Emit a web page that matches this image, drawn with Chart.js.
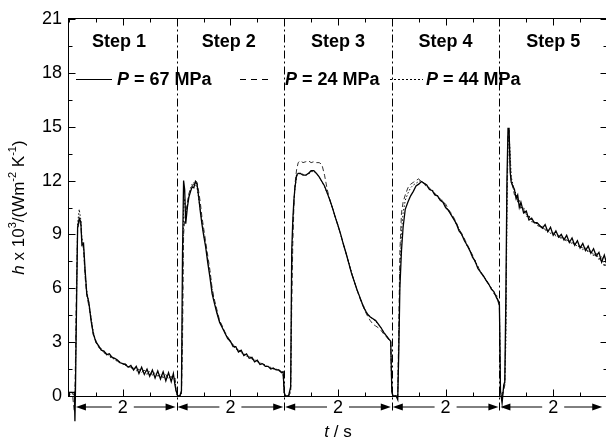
<!DOCTYPE html>
<html>
<head>
<meta charset="utf-8">
<script src="https://cdn.jsdelivr.net/npm/chart.js@4.4.1/dist/chart.umd.min.js"></script>
<style>
html, body { margin: 0; padding: 0; overflow: hidden; background: #fff; }
canvas { display: block; }
</style>
</head>
<body>
<canvas id="chart_heatTransferSteps" width="607" height="439"></canvas>
<script>
// time (s) and h x 10^3 (W m-2 K-1), read step by step
var step1Time = [0, 0.06, 0.10, 0.11, 0.12, 0.14, 0.16, 0.19, 0.22, 0.24, 0.27, 0.30, 0.33, 0.37, 0.41, 0.45, 0.50, 0.55, 0.60, 0.65, 0.70, 0.75, 0.80, 0.85, 0.90, 0.95, 1.00, 1.05, 1.10, 1.15, 1.20, 1.25, 1.30, 1.35, 1.40, 1.45, 1.50, 1.55, 1.60, 1.65, 1.70, 1.75, 1.80, 1.85, 1.90, 1.94, 1.97, 1.99];
var step1P67 = [0.2, 0.2, 0.2, -1.4, 0.3, 5.0, 9.4, 9.9, 9.7, 8.4, 8.5, 7.0, 5.7, 5.2, 4.2, 3.5, 3.0, 2.8, 2.55, 2.5, 2.3, 2.35, 2.15, 2.1, 2.0, 1.85, 1.8, 1.75, 1.6, 1.7, 1.45, 1.65, 1.25, 1.6, 1.2, 1.5, 1.1, 1.45, 1.0, 1.4, 0.95, 1.35, 0.85, 1.3, 0.8, 1.25, 0.6, 0.3];
var step1P24 = [0.2, 0.2, -0.9, 0.2, 2.0, 6.5, 9.2, 9.8, 9.5, 8.6, 8.2, 6.6, 5.6, 5.0, 4.3, 3.4, 3.1, 2.7, 2.6, 2.4, 2.35, 2.2, 2.2, 2.0, 1.95, 1.9, 1.75, 1.8, 1.65, 1.6, 1.55, 1.4, 1.5, 1.3, 1.45, 1.2, 1.4, 1.15, 1.3, 1.1, 1.25, 1.0, 1.2, 0.95, 1.1, 0.9, 1.0, 0.2];
var step1P44 = [0.1, 0.1, 0.1, 0.1, 1.0, 5.5, 9.6, 10.4, 9.8, 8.8, 8.3, 6.8, 5.9, 5.1, 4.4, 3.6, 3.0, 2.75, 2.65, 2.4, 2.4, 2.2, 2.1, 2.05, 1.9, 1.85, 1.8, 1.7, 1.65, 1.55, 1.6, 1.45, 1.5, 1.35, 1.45, 1.3, 1.35, 1.2, 1.3, 1.1, 1.2, 1.05, 1.15, 1.0, 1.1, 0.95, 1.0, 0.3];

var step2Time = [2.02, 2.06, 2.09, 2.11, 2.13, 2.15, 2.17, 2.20, 2.23, 2.26, 2.29, 2.32, 2.35, 2.38, 2.41, 2.44, 2.47, 2.50, 2.54, 2.58, 2.62, 2.66, 2.70, 2.75, 2.80, 2.85, 2.90, 2.95, 3.00, 3.05, 3.10, 3.15, 3.20, 3.25, 3.30, 3.35, 3.40, 3.45, 3.50, 3.55, 3.60, 3.65, 3.70, 3.75, 3.80, 3.85, 3.90, 3.95, 3.98, 4.00];
var step2P67 = [0.0, 0.0, 0.3, 8.0, 12.0, 11.5, 9.6, 10.5, 11.1, 11.4, 11.65, 11.6, 11.95, 11.8, 11.1, 10.3, 9.6, 9.0, 8.3, 7.4, 6.6, 5.7, 5.2, 4.6, 4.1, 3.8, 3.5, 3.2, 3.05, 2.75, 2.75, 2.45, 2.55, 2.25, 2.35, 2.1, 2.15, 1.9, 2.0, 1.75, 1.8, 1.65, 1.65, 1.5, 1.55, 1.45, 1.45, 1.3, 1.35, 0.2];
var step2P24 = [0.0, 0.0, 0.0, 3.0, 9.0, 9.8, 10.2, 10.8, 11.3, 11.5, 11.7, 11.8, 12.0, 11.9, 11.4, 10.8, 10.0, 9.4, 8.6, 7.8, 7.0, 6.0, 5.4, 4.8, 4.2, 3.9, 3.55, 3.3, 3.05, 2.85, 2.7, 2.55, 2.45, 2.3, 2.3, 2.15, 2.1, 1.95, 1.95, 1.8, 1.8, 1.65, 1.65, 1.55, 1.55, 1.45, 1.45, 1.35, 1.3, 0.2];
var step2P44 = [0.0, 0.0, 0.1, 5.0, 10.5, 11.0, 10.0, 10.6, 11.2, 11.6, 11.8, 11.9, 11.8, 11.6, 11.0, 10.4, 9.8, 9.1, 8.4, 7.6, 6.8, 5.9, 5.3, 4.7, 4.15, 3.85, 3.5, 3.25, 3.0, 2.85, 2.6, 2.6, 2.4, 2.4, 2.2, 2.25, 2.05, 2.05, 1.9, 1.9, 1.75, 1.75, 1.6, 1.6, 1.5, 1.5, 1.4, 1.4, 1.3, 0.2];

var step3Time = [4.02, 4.08, 4.12, 4.14, 4.16, 4.18, 4.20, 4.23, 4.26, 4.30, 4.35, 4.40, 4.45, 4.50, 4.55, 4.60, 4.65, 4.70, 4.75, 4.80, 4.85, 4.90, 4.95, 5.00, 5.05, 5.10, 5.15, 5.20, 5.25, 5.30, 5.35, 5.40, 5.45, 5.50, 5.55, 5.60, 5.65, 5.70, 5.75, 5.80, 5.85, 5.90, 5.95, 5.98, 6.00];
var step3P67 = [0.0, 0.0, 0.5, 8.1, 9.8, 10.9, 11.6, 12.3, 12.4, 12.4, 12.3, 12.3, 12.4, 12.55, 12.55, 12.4, 12.2, 11.95, 11.7, 11.3, 10.9, 10.45, 9.95, 9.5, 9.0, 8.45, 7.95, 7.4, 6.85, 6.4, 5.95, 5.55, 5.15, 4.8, 4.55, 4.4, 4.3, 4.2, 4.0, 3.8, 3.55, 3.35, 3.15, 3.05, 0.3];
var step3P24 = [0.0, 0.0, 0.2, 5.0, 8.5, 10.5, 11.8, 12.6, 13.0, 13.1, 13.0, 13.05, 13.1, 13.0, 13.05, 13.0, 13.0, 12.9, 12.3, 11.5, 10.9, 10.45, 9.95, 9.5, 9.0, 8.45, 7.95, 7.4, 6.85, 6.4, 5.95, 5.5, 5.1, 4.75, 4.45, 4.2, 4.0, 3.9, 3.8, 3.65, 3.45, 3.3, 3.1, 3.0, 0.2];
var step3P44 = [0.0, 0.0, 0.3, 7.0, 9.5, 10.8, 11.6, 12.2, 12.35, 12.4, 12.35, 12.3, 12.35, 12.5, 12.5, 12.4, 12.2, 11.95, 11.65, 11.3, 10.9, 10.45, 10.0, 9.5, 9.0, 8.5, 7.95, 7.45, 6.9, 6.4, 5.95, 5.55, 5.15, 4.85, 4.55, 4.4, 4.3, 4.15, 4.0, 3.8, 3.55, 3.35, 3.15, 3.05, 0.3];

var step4Time = [6.02, 6.08, 6.11, 6.13, 6.15, 6.18, 6.21, 6.25, 6.30, 6.35, 6.40, 6.45, 6.50, 6.55, 6.60, 6.65, 6.70, 6.75, 6.80, 6.85, 6.90, 6.95, 7.00, 7.05, 7.10, 7.15, 7.20, 7.25, 7.30, 7.35, 7.40, 7.45, 7.50, 7.55, 7.60, 7.65, 7.70, 7.75, 7.80, 7.85, 7.90, 7.95, 7.98, 8.00];
var step4P67 = [0.0, 0.0, -0.2, 2.5, 6.0, 8.1, 9.4, 10.4, 10.8, 11.15, 11.4, 11.7, 11.8, 11.95, 11.85, 11.75, 11.5, 11.45, 11.2, 11.15, 10.9, 10.8, 10.5, 10.35, 10.1, 9.85, 9.6, 9.2, 9.0, 8.65, 8.4, 8.1, 7.75, 7.5, 7.1, 6.9, 6.7, 6.45, 6.25, 5.95, 5.8, 5.45, 5.3, 5.1];
var step4P24 = [0.0, 0.0, 0.0, 4.0, 8.0, 10.2, 10.8, 11.2, 11.6, 11.8, 11.9, 12.0, 12.1, 11.9, 11.85, 11.6, 11.6, 11.35, 11.3, 11.05, 11.0, 10.75, 10.7, 10.4, 10.2, 9.95, 9.65, 9.3, 9.05, 8.75, 8.45, 8.15, 7.85, 7.45, 7.25, 6.85, 6.7, 6.45, 6.2, 6.0, 5.7, 5.55, 5.2, 5.0];
var step4P44 = [0.0, 0.0, 0.0, 3.0, 6.8, 9.2, 10.2, 10.9, 11.3, 11.6, 11.75, 11.85, 11.95, 12.0, 11.85, 11.75, 11.5, 11.5, 11.25, 11.15, 10.9, 10.9, 10.55, 10.35, 10.1, 9.9, 9.55, 9.3, 8.95, 8.75, 8.35, 8.15, 7.7, 7.55, 7.15, 6.95, 6.65, 6.5, 6.2, 6.05, 5.7, 5.6, 5.25, 5.2];

var step5Time = [8.02, 8.05, 8.08, 8.10, 8.12, 8.14, 8.16, 8.18, 8.20, 8.22, 8.25, 8.28, 8.31, 8.34, 8.37, 8.40, 8.45, 8.50, 8.55, 8.60, 8.65, 8.70, 8.75, 8.80, 8.85, 8.90, 8.95, 9.00, 9.05, 9.10, 9.15, 9.20, 9.25, 9.30, 9.35, 9.40, 9.45, 9.50, 9.55, 9.60, 9.65, 9.70, 9.75, 9.80, 9.85, 9.90, 9.95, 10.00];
var step5P67 = [0.3, -0.4, 0.6, 0.8, 5.5, 12.0, 14.9, 14.9, 12.5, 11.9, 11.7, 11.5, 11.0, 11.2, 10.5, 10.8, 10.2, 10.3, 9.8, 9.9, 9.65, 9.65, 9.5, 9.35, 9.55, 9.15, 9.4, 8.95, 9.2, 8.85, 9.0, 8.7, 8.95, 8.55, 8.8, 8.4, 8.65, 8.25, 8.5, 8.1, 8.35, 7.95, 8.2, 7.8, 8.0, 7.45, 7.85, 7.3];
var step5P24 = [0.2, 0.0, 0.3, 0.6, 4.0, 11.0, 14.6, 14.8, 13.0, 12.0, 11.6, 11.2, 11.2, 10.8, 10.8, 10.4, 10.4, 10.0, 10.0, 9.7, 9.7, 9.5, 9.45, 9.35, 9.3, 9.2, 9.15, 9.0, 9.0, 8.85, 8.85, 8.7, 8.7, 8.6, 8.55, 8.45, 8.4, 8.3, 8.25, 8.15, 8.1, 7.95, 7.9, 7.8, 7.7, 7.5, 7.35, 7.2];
var step5P44 = [0.2, 0.1, 0.4, 0.7, 3.0, 10.0, 14.0, 14.5, 13.5, 12.2, 11.8, 11.4, 11.3, 10.9, 10.9, 10.5, 10.5, 10.1, 10.05, 9.8, 9.65, 9.6, 9.4, 9.45, 9.2, 9.3, 9.05, 9.1, 8.9, 8.95, 8.75, 8.8, 8.6, 8.65, 8.45, 8.5, 8.3, 8.4, 8.15, 8.25, 8.0, 8.1, 7.8, 7.95, 7.6, 7.8, 7.2, 7.6];

var stepLabels = ['Step 1', 'Step 2', 'Step 3', 'Step 4', 'Step 5'];
var stepLabelCenters = [0.93, 2.97, 5, 7, 9];
var stepStarts = [0.11, 2, 4, 6, 8];
var stepEnds = [2, 4, 6, 8, 9.93];
var stepCenters = [1, 3, 5, 7, 9];
var stepDurations = ['2', '2', '2', '2', '2'];
var pressureLabels = ['67', '24', '44'];

var time = [].concat(step1Time, step2Time, step3Time, step4Time, step5Time);
var h67 = [].concat(step1P67, step2P67, step3P67, step4P67, step5P67);
var h24 = [].concat(step1P24, step2P24, step3P24, step4P24, step5P24);
var h44 = [].concat(step1P44, step2P44, step3P44, step4P44, step5P44);

function toPoints(values) {
    return time.map(function (t, i) { return { x: t, y: values[i] }; });
}

var FONT = '"Liberation Sans", Arial, Helvetica, sans-serif';

function drawParts(ctx, parts, x, y, center) {
    var total = 0;
    parts.forEach(function (p) { ctx.font = p[1]; total += ctx.measureText(p[0]).width; });
    var cx = center ? x - total / 2 : x;
    parts.forEach(function (p) {
        ctx.font = p[1];
        ctx.fillText(p[0], cx, y + (p[2] || 0));
        cx += ctx.measureText(p[0]).width;
    });
}

var decorations = {
    id: 'decorations',
    afterDraw: function (chart) {
        var ctx = chart.ctx, a = chart.chartArea;
        var xs = chart.scales.x, ys = chart.scales.y;
        var L = Math.round(a.left) - 0.5, R = Math.round(a.right) + 0.5;
        var T = Math.round(a.top) - 0.5, B = Math.round(a.bottom) + 0.5;
        ctx.save();
        ctx.strokeStyle = '#000';
        ctx.fillStyle = '#000';
        ctx.lineWidth = 1;

        // frame
        ctx.strokeRect(L, T, R - L, B - T);

        // inward ticks
        ctx.beginPath();
        for (var k = 0; k <= 14; k++) {
            var py = Math.round(ys.getPixelForValue(1.5 * k)) + 0.5;
            var len = k % 2 === 0 ? 7 : 4;
            ctx.moveTo(L, py); ctx.lineTo(L + len, py);
            ctx.moveTo(R, py); ctx.lineTo(R - len, py);
        }
        for (var j = 0; j <= 20; j++) {
            var px = Math.round(xs.getPixelForValue(0.5 * j)) + 0.5;
            var tl = j % 4 === 2 ? 7 : 4;
            ctx.moveTo(px, B); ctx.lineTo(px, B - tl);
            ctx.moveTo(px, T); ctx.lineTo(px, T + tl);
        }
        ctx.stroke();

        // step boundaries
        ctx.setLineDash([8, 3, 2, 3]);
        ctx.beginPath();
        stepStarts.slice(1).forEach(function (b) {
            var bx = Math.round(xs.getPixelForValue(b)) + 0.5;
            ctx.moveTo(bx, T); ctx.lineTo(bx, B + 17);
        });
        ctx.stroke();
        ctx.setLineDash([]);

        // duration arrows
        var ay = B + 10.5;
        ctx.textAlign = 'left';
        ctx.textBaseline = 'middle';
        stepStarts.forEach(function (s, i) {
            var x0 = xs.getPixelForValue(s) + 1;
            var x1 = xs.getPixelForValue(stepEnds[i]) - 1;
            var xc = xs.getPixelForValue(stepCenters[i]);
            ctx.beginPath();
            ctx.moveTo(x0 + 6, ay); ctx.lineTo(xc - 11, ay);
            ctx.moveTo(xc + 11, ay); ctx.lineTo(x1 - 6, ay);
            ctx.stroke();
            ctx.beginPath();
            ctx.moveTo(x0, ay); ctx.lineTo(x0 + 10, ay - 3.5); ctx.lineTo(x0 + 10, ay + 3.5); ctx.closePath();
            ctx.moveTo(x1, ay); ctx.lineTo(x1 - 10, ay - 3.5); ctx.lineTo(x1 - 10, ay + 3.5); ctx.closePath();
            ctx.fill();
            drawParts(ctx, [[stepDurations[i], '18px ' + FONT]], xc, ay + 1, true);
        });

        // step labels
        stepLabels.forEach(function (lab, i) {
            drawParts(ctx, [[lab, 'bold 18px ' + FONT]], xs.getPixelForValue(stepLabelCenters[i]), a.top + 23, true);
        });

        // legend row
        var ly = a.top + 60.5;
        var items = [
            { from: 7, to: 43, text: 48, dash: [] },
            { from: 171, to: 203, text: 216, dash: [6, 5] },
            { from: 321, to: 354, text: 357, dash: [2, 2] }
        ];
        items.forEach(function (it, i) {
            ctx.setLineDash(it.dash);
            ctx.beginPath();
            ctx.moveTo(a.left + it.from, ly); ctx.lineTo(a.left + it.to, ly);
            ctx.stroke();
            ctx.setLineDash([]);
            drawParts(ctx, [['P', 'italic bold 18px ' + FONT], [' = ' + pressureLabels[i] + ' MPa', 'bold 18px ' + FONT]],
                a.left + it.text, ly + 0.5, false);
        });

        // x title
        drawParts(ctx, [['t', 'italic 17px ' + FONT], [' / s', '17px ' + FONT]], (a.left + a.right) / 2, 432, true);

        // y title
        ctx.save();
        ctx.translate(19, (a.top + a.bottom) / 2);
        ctx.rotate(-Math.PI / 2);
        var f = '17px ' + FONT, fs = '11px ' + FONT;
        drawParts(ctx, [
            ['h', 'italic ' + f], [' x 10', f], ['3', fs, -6], ['/(Wm', f], ['-2', fs, -6],
            [' K', f], ['-1', fs, -6], [')', f]
        ], 0, 0, true);
        ctx.restore();

        ctx.restore();
    }
};

var lineStyle = { pointRadius: 0, tension: 0, fill: false, clip: { left: 0, top: 0, right: 0, bottom: 30 } };

var chart_heatTransferSteps = new Chart(document.getElementById('chart_heatTransferSteps'), {
    type: 'line',
    data: {
        datasets: [
            Object.assign({ label: 'P = 44 MPa', data: toPoints(h44), borderColor: '#111', borderWidth: 1, borderDash: [1.5, 2], order: 3 }, lineStyle),
            Object.assign({ label: 'P = 24 MPa', data: toPoints(h24), borderColor: '#333', borderWidth: 1, borderDash: [5, 3], order: 2 }, lineStyle),
            Object.assign({ label: 'P = 67 MPa', data: toPoints(h67), borderColor: '#000', borderWidth: 1.3, order: 1 }, lineStyle)
        ]
    },
    options: {
        animation: false,
        responsive: false,
        devicePixelRatio: 1,
        events: [],
        layout: { padding: { top: 19, right: 0, bottom: 0, left: 0 } },
        plugins: {
            legend: { display: false },
            tooltip: { enabled: false },
            title: { display: false }
        },
        scales: {
            x: {
                type: 'linear',
                min: 0,
                max: 10,
                ticks: { display: false },
                grid: { display: false, drawTicks: false },
                border: { display: false },
                afterFit: function (scale) { scale.height = 43; }
            },
            y: {
                type: 'linear',
                min: 0,
                max: 21,
                ticks: {
                    stepSize: 3,
                    padding: 7,
                    color: '#000',
                    font: { family: FONT, size: 18 }
                },
                grid: { display: false, drawTicks: false },
                border: { display: false },
                afterFit: function (scale) { scale.width = 69; }
            }
        }
    },
    plugins: [decorations, {
        id: 'whiteBackground',
        beforeDraw: function (chart) {
            var ctx = chart.ctx;
            ctx.save();
            ctx.fillStyle = '#fff';
            ctx.fillRect(0, 0, chart.width, chart.height);
            ctx.restore();
        }
    }]
});
</script>
</body>
</html>
